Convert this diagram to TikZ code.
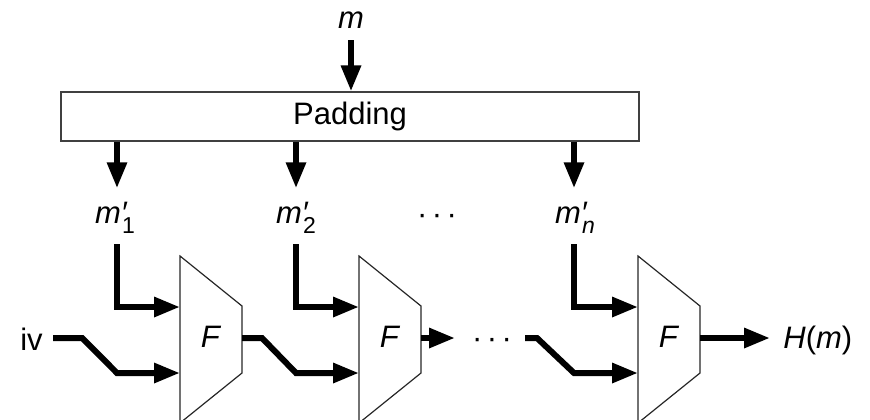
\documentclass[tikz,border=0pt]{standalone}
\usepackage{fontspec}
\setmainfont{Liberation Sans}
\usetikzlibrary{arrows.meta}
\newcommand{\subx}[1]{\kern-2.8pt\raisebox{-5pt}{\fontsize{11.5}{12}\selectfont #1}}
\newcommand{\threedots}{·\kern2.2pt·\kern2.2pt·}
\begin{document}
\begin{tikzpicture}[x=0.5pt,y=-0.5pt,
  lbl/.style={font=\fontsize{15.5}{18}\selectfont, inner sep=0pt},
  conn/.style={line width=3pt},
  arr/.style={conn, -{Triangle[length=13pt,width=9.5pt]}},
  trap/.style={draw=black!85, line width=0.6pt},
  padbox/.style={draw=black!75, line width=0.6pt, minimum width=289pt, minimum height=24.5pt, inner sep=0pt, font=\fontsize{15.5}{18}\selectfont}]
\clip (0,0) rectangle (870,419);

% padding box and message
\node[padbox] (pad) at (350,116.5) {Padding};
\node[lbl, anchor=base] (m) at (351,28) {\textit{m}};
\draw[arr, shorten <=6pt] (m.south) -- (m.south |- pad.north);

% column positions
\coordinate (c1) at (117,0);
\coordinate (c2) at (296,0);
\coordinate (c3) at (574,0);

% block labels
\node[lbl, anchor=base] (m1) at (115,223) {\textit{m′}\subx{1}};
\node[lbl, anchor=base] (m2) at (296,223) {\textit{m′}\subx{2}};
\node[lbl, anchor=base] (mn) at (575,223) {\textit{m′}\subx{\textit{n}}};
\node[lbl, anchor=base] (dt) at (437,224) {\threedots};

\draw[arr, shorten >=6.5pt] (pad.south -| c1) -- (c1 |- m1.north);
\draw[arr, shorten >=6.5pt] (pad.south -| c2) -- (c2 |- m2.north);
\draw[arr, shorten >=6.5pt] (pad.south -| c3) -- (c3 |- mn.north);

% compression blocks
\foreach \i/\dx in {1/0, 2/179, 3/458} {
  \draw[trap] (180+\dx,256) -- (242+\dx,306) -- (242+\dx,373) -- (180+\dx,423) -- cycle;
  \node[lbl] (F\i) at (211+\dx,337) {\textit{F}};
  \coordinate (F\i a) at (180+\dx,307);
  \coordinate (F\i b) at (180+\dx,373);
  \coordinate (F\i o) at (242+\dx,338);
}

% message block inputs
\draw[arr, shorten <=5.5pt] (c1 |- m1.south) |- (F1a);
\draw[arr, shorten <=5.5pt] (c2 |- m2.south) |- (F2a);
\draw[arr, shorten <=5.5pt] (c3 |- mn.south) |- (F3a);

% chaining values
\node[lbl, anchor=base] (iv) at (31.5,350) {iv};
\draw[arr, shorten <=5pt] (iv.east |- F1o) -- ++(39,0) -- (c1 |- F1b) -- (F1b);
\draw[arr] (F1o) -- ++(20,0) -- (c2 |- F2b) -- (F2b);

\coordinate (d1) at (455,338);
\coordinate (d2) at (525,338);
\node[lbl, anchor=base] (dm) at (492,348) {\threedots};
\draw[arr] (F2o) -- (d1);
\draw[arr] (d2) -- ++(12,0) -- (c3 |- F3b) -- (F3b);

\node[lbl, anchor=base west] (Hm) at (783,348) {\textit{H}(\textit{m})};
\draw[arr, shorten >=6.5pt] (F3o) -- (Hm.west |- F3o);
\end{tikzpicture}
\end{document}
